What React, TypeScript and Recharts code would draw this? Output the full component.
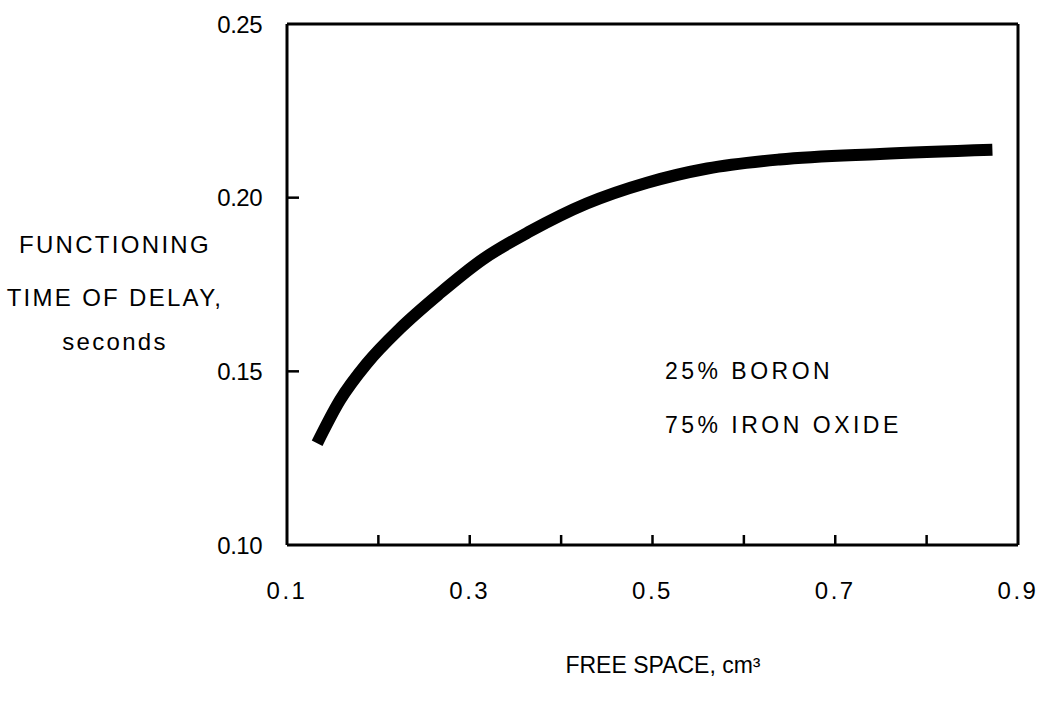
import React from 'react';
import { LineChart, Line, XAxis, YAxis, ReferenceLine, ReferenceDot } from 'recharts';

const freeSpace = [0.133, 0.158, 0.1875, 0.224, 0.267, 0.314, 0.366, 0.428, 0.494, 0.56, 0.639, 0.749, 0.872];
const delayTime = [0.1293, 0.1417, 0.1523, 0.1624, 0.1724, 0.1822, 0.1903, 0.1983, 0.2043, 0.2084, 0.2110, 0.2126, 0.2138];
const xTicks = [0.1, 0.2, 0.3, 0.4, 0.5, 0.6, 0.7, 0.8, 0.9];
const xLabelTicks = [0.1, 0.3, 0.5, 0.7, 0.9];
const yTicks = [0.1, 0.15, 0.2, 0.25];
const yLabelLines = ['FUNCTIONING', 'TIME OF DELAY,', 'seconds'];
const notes = [
  { x: 0.5136, y: 0.15, text: '25% BORON' },
  { x: 0.5136, y: 0.1345, text: '75% IRON OXIDE' },
];

const data = freeSpace.map((x, i) => ({ x, y: delayTime[i] }));
const FONT = '"Liberation Sans", Arial, Helvetica, sans-serif';

const XTick = (props: any) => {
  const { x, y, payload } = props;
  const v = payload.value;
  const inner = v > 0.1 + 1e-9 && v < 0.9 - 1e-9;
  const showLabel = xLabelTicks.some((t) => Math.abs(t - v) < 1e-9);
  return (
    <g>
      {inner && <line x1={x} y1={y} x2={x} y2={y - 10} stroke="#000" strokeWidth={2.5} />}
      {showLabel && (
        <text x={x} y={y + 45} textAnchor="middle" dominantBaseline="central" fontFamily={FONT} fontSize={24} letterSpacing={2.5} fill="#000">
          {v.toFixed(1)}
        </text>
      )}
    </g>
  );
};

const YTick = (props: any) => {
  const { x, y, payload } = props;
  const v = payload.value;
  const inner = v > 0.1 + 1e-9 && v < 0.25 - 1e-9;
  return (
    <g>
      {inner && <line x1={x} y1={y} x2={x + 12} y2={y} stroke="#000" strokeWidth={2.5} />}
      <text x={x - 25} y={y} textAnchor="end" dominantBaseline="central" fontFamily={FONT} fontSize={24} letterSpacing={-0.5} fill="#000">
        {v.toFixed(2)}
      </text>
    </g>
  );
};

const NoteLabel = (text: string) => (props: any) => {
  const { viewBox } = props;
  return (
    <text x={viewBox.x} y={viewBox.y} dominantBaseline="central" fontFamily={FONT} fontSize={23} letterSpacing={3.5} fill="#000">
      {text}
    </text>
  );
};

export default function App() {
  return (
    <div style={{ position: 'absolute', left: 0, top: 0, background: '#fff' }}>
      <LineChart width={1044} height={711} data={data} margin={{ top: 24, right: 26, bottom: 0, left: 0 }}>
        <XAxis
          dataKey="x"
          type="number"
          domain={[0.1, 0.9]}
          ticks={xTicks}
          interval={0}
          tick={<XTick />}
          tickLine={false}
          tickSize={0}
          tickMargin={0}
          axisLine={{ stroke: '#000', strokeWidth: 3 }}
          height={166}
          label={(p: any) => (
            <text x={663} y={665} textAnchor="middle" dominantBaseline="central" fontFamily={FONT} fontSize={23} fill="#000">
              FREE SPACE, cm³
            </text>
          )}
        />
        <YAxis
          type="number"
          domain={[0.1, 0.25]}
          ticks={yTicks}
          interval={0}
          tick={<YTick />}
          tickLine={false}
          tickSize={0}
          tickMargin={0}
          axisLine={{ stroke: '#000', strokeWidth: 3 }}
          width={287}
          label={(p: any) => (
            <g>
              {yLabelLines.map((t, i) => (
                <text
                  key={t}
                  x={115}
                  y={[244, 297, 341][i]}
                  textAnchor="middle"
                  dominantBaseline="central"
                  fontFamily={FONT}
                  fontSize={24}
                  letterSpacing={2.3}
                  fill="#000"
                >
                  {t}
                </text>
              ))}
            </g>
          )}
        />
        <ReferenceLine y={0.25} stroke="#000" strokeWidth={3} ifOverflow="extendDomain" />
        <ReferenceLine x={0.9} stroke="#000" strokeWidth={3} ifOverflow="extendDomain" />
        {notes.map((n) => (
          <ReferenceDot key={n.text} x={n.x} y={n.y} r={0} stroke="none" fill="none" label={NoteLabel(n.text)} />
        ))}
        <Line
          type="monotone"
          dataKey="y"
          stroke="#000"
          strokeWidth={12}
          strokeLinecap="butt"
          dot={false}
          isAnimationActive={false}
        />
      </LineChart>
    </div>
  );
}
